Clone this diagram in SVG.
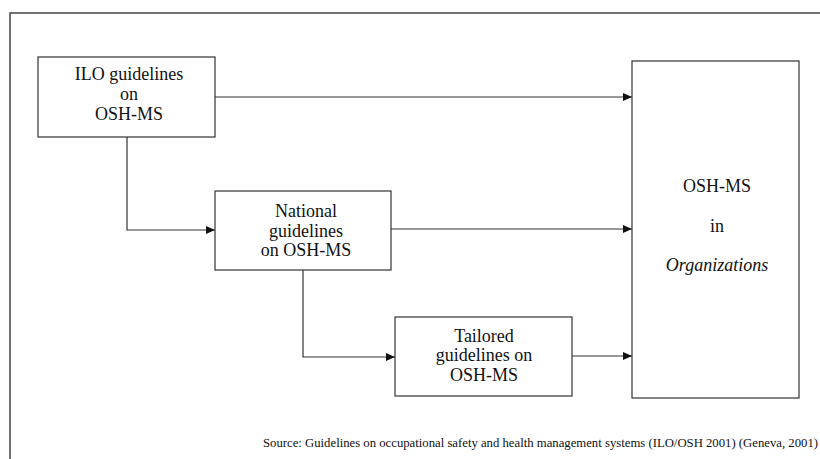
<svg xmlns="http://www.w3.org/2000/svg" width="820" height="459" viewBox="0 0 820 459">
<style>
.box{fill:#fff;stroke:#333;stroke-width:1.2}
.t{font-family:'Liberation Serif','Times New Roman','DejaVu Serif',Times,serif;font-size:18px;fill:#111;text-anchor:middle}
.ln{fill:none;stroke:#333;stroke-width:1.2}
.src{font-family:'Liberation Serif','Times New Roman','DejaVu Serif',Times,serif;font-size:12px;fill:#111}
</style>
<defs>
<marker id="ah" markerWidth="9" markerHeight="8" refX="9" refY="4" orient="auto" markerUnits="userSpaceOnUse">
<path d="M0,0 L9,4 L0,8 Z" fill="#111"/>
</marker>
</defs>
<rect width="820" height="459" fill="#fff"/>
<path d="M10,459 L10,13 L820,13" fill="none" stroke="#444" stroke-width="1.5"/>
<g id="connectors">
<path class="ln" d="M215,97 L632,97" marker-end="url(#ah)"/>
<path class="ln" d="M127,137 L127,230 L215,230" marker-end="url(#ah)"/>
<path class="ln" d="M391,229 L632,229" marker-end="url(#ah)"/>
<path class="ln" d="M303,270 L303,357 L395,357" marker-end="url(#ah)"/>
<path class="ln" d="M572,356 L632,356" marker-end="url(#ah)"/>
</g>
<g id="ilo">
<rect class="box" x="38" y="57" width="177" height="80"/>
<text class="t" x="129" y="80">ILO guidelines</text>
<text class="t" x="129" y="100">on</text>
<text class="t" x="129" y="120">OSH-MS</text>
</g>
<g id="national">
<rect class="box" x="215" y="191" width="176" height="79"/>
<text class="t" x="306" y="217">National</text>
<text class="t" x="306" y="237">guidelines</text>
<text class="t" x="306" y="256">on OSH-MS</text>
</g>
<g id="tailored">
<rect class="box" x="395" y="317" width="177" height="79"/>
<text class="t" x="484" y="342">Tailored</text>
<text class="t" x="484" y="361">guidelines on</text>
<text class="t" x="484" y="381">OSH-MS</text>
</g>
<g id="osh">
<rect class="box" x="632" y="61" width="167" height="337"/>
<text class="t" x="717" y="192">OSH-MS</text>
<text class="t" x="717" y="232">in</text>
<text class="t" x="717" y="271" font-style="italic">Organizations</text>
</g>
<text class="src" x="263" y="447" textLength="555" lengthAdjust="spacingAndGlyphs">Source: Guidelines on occupational safety and health management systems (ILO/OSH 2001) (Geneva, 2001)</text>
</svg>
